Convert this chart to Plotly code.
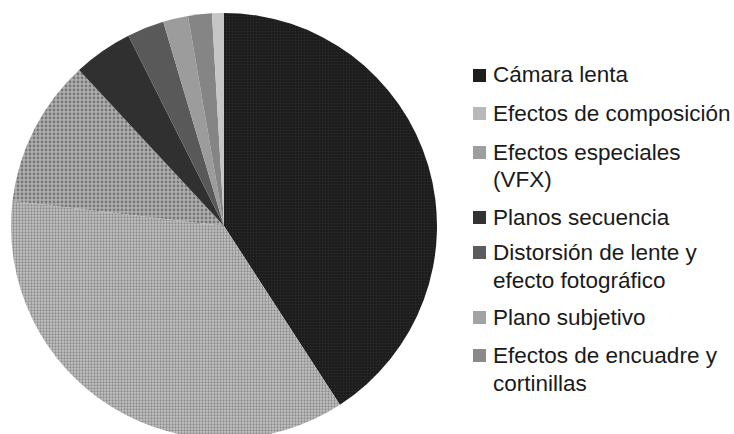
import plotly.graph_objects as go

# Share of techniques (percent)
labels = [
    "Cámara lenta",
    "Efectos de composición",
    "Efectos especiales (VFX)",
    "Planos secuencia",
    "Distorsión de lente y efecto fotográfico",
    "Plano subjetivo",
    "Efectos de encuadre y cortinillas",
    "Otros",
]
values = [40.8, 36.0, 11.2, 4.5, 2.8, 1.9, 1.8, 0.9]

# Legend text, wrapped as laid out beside the pie
legend_lines = [
    ["Cámara lenta"],
    ["Efectos de composición"],
    ["Efectos especiales", "(VFX)"],
    ["Planos secuencia"],
    ["Distorsión de lente y", "efecto fotográfico"],
    ["Plano subjetivo"],
    ["Efectos de encuadre y", "cortinillas"],
]

slice_colors = ["#1a1a1a", "#c4c4c4", "#b0b0b0", "#303030",
                "#595959", "#9c9c9c", "#858585", "#c6c6c6"]
pattern_fg = ["#2a2a2a", "#8c8c8c", "#777777", "#303030",
              "#595959", "#9c9c9c", "#858585", "#c6c6c6"]
swatch_colors = ["#1e1e1e", "#b8b8b8", "#9e9e9e", "#333333",
                 "#5c5c5c", "#a3a3a3", "#8a8a8a"]

W, H = 734, 452  # canvas a bit taller than the view so the pie bottom is clipped
cx, cy, r = 224, 226, 213

fig = go.Figure(go.Pie(
    labels=labels,
    values=values,
    sort=False,
    direction="clockwise",
    rotation=0,
    textinfo="none",
    showlegend=False,
    marker=dict(
        colors=slice_colors,
        line=dict(width=0),
        pattern=dict(
            shape=[".", ".", ".", "", "", "", "", ""],
            bgcolor=slice_colors,
            fgcolor=pattern_fg,
            size=[3, 3, 4, 3, 3, 3, 3, 3],
            solidity=[0.4, 0.45, 0.4, 0.3, 0.3, 0.3, 0.3, 0.3],
        ),
    ),
    domain=dict(x=[(cx - r) / W, (cx + r) / W], y=[1 - (cy + r) / H, 1 - (cy - r) / H]),
))

# Hand-laid legend: square swatch plus wrapped label lines
item_y = [75, 113, 152, 217, 252, 317, 355]
line_gap = 28
text_x = 491
annotations, shapes = [], []
for i, lines in enumerate(legend_lines):
    y0 = item_y[i]
    shapes.append(dict(
        type="rect", xref="paper", yref="paper",
        x0=473 / W, x1=486 / W,
        y0=1 - (y0 + 7) / H, y1=1 - (y0 - 6) / H,
        fillcolor=swatch_colors[i], line=dict(width=0),
    ))
    for j, line in enumerate(lines):
        annotations.append(dict(
            text=line, xref="paper", yref="paper",
            x=text_x / W, y=1 - (y0 + j * line_gap) / H,
            xanchor="left", yanchor="middle", showarrow=False,
            font=dict(family="Liberation Sans, Arial, sans-serif", size=22.5, color="#1a1a1a"),
        ))

fig.update_layout(
    width=W, height=H,
    margin=dict(l=0, r=0, t=0, b=0),
    paper_bgcolor="white",
    plot_bgcolor="white",
    annotations=annotations,
    shapes=shapes,
)

fig.write_html(
    "out.html",
    post_script="document.documentElement.style.overflow='hidden';document.body.style.overflow='hidden';document.body.style.margin='0';",
)
